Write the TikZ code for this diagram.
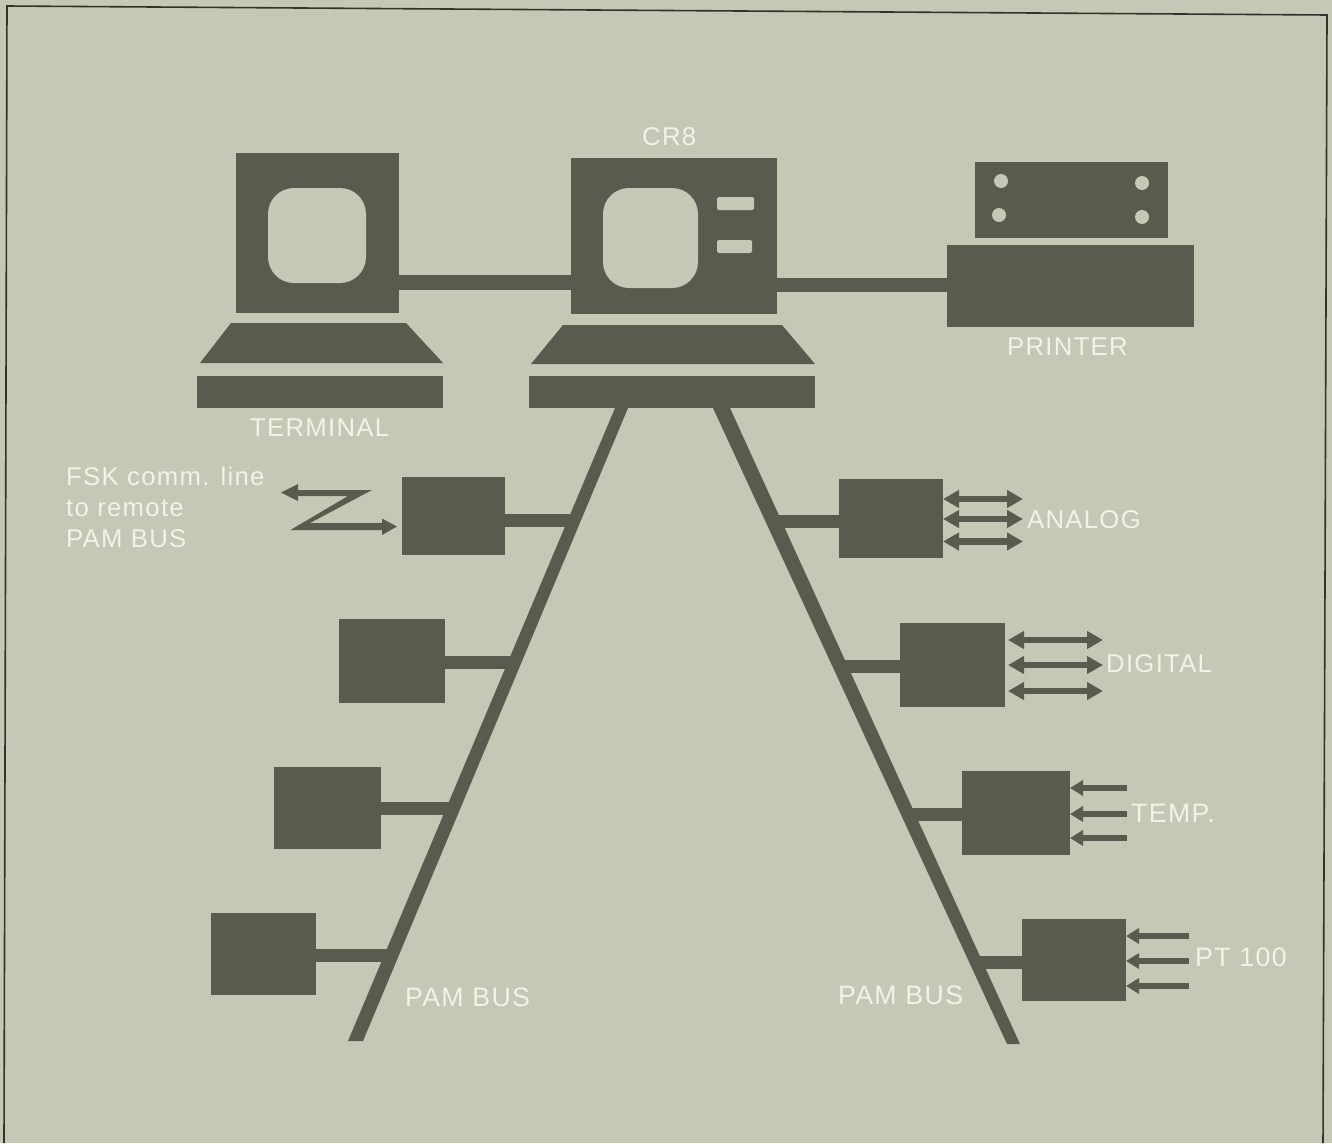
\documentclass[tikz,border=0pt]{standalone}
\usepackage{fontspec}
\setmainfont{Liberation Sans}[LetterSpace=5]
\usetikzlibrary{arrows.meta}
\definecolor{paper}{HTML}{C6C7B4}
\definecolor{ink}{HTML}{5A5A4E}
\definecolor{lbl}{HTML}{F2F2E8}
\definecolor{frameline}{HTML}{33332B}
\tikzset{
  x=1pt,y=-1pt,
  lab/.style={text=lbl,inner sep=0pt,font=\fontsize{25.7}{31}\selectfont,anchor=base west,align=left},
  labb/.style={lab,font=\fontsize{26.7}{31}\selectfont},
  stub/.style={line width=13pt,ink,line cap=butt},
  dbl/.style={line width=6.3pt,ink,{Triangle[length=16pt,width=17pt]}-{Triangle[length=16pt,width=17pt]}},
  inarr/.style={line width=6pt,ink,-{Triangle[length=13pt,width=15pt]}},
  hole/.style={fill=paper,draw=none,rounded corners=#1},
}
\newcommand{\blk}[5]{\node[fill=ink,inner sep=0pt,outer sep=0pt,minimum width=#4-#2,minimum height=#5-#3] (#1) at ({(#2+#4)/2},{(#3+#5)/2}) {};}
\begin{document}
\begin{tikzpicture}
\useasboundingbox (0,0) rectangle (1332,1143);
\fill[paper] (0,0) rectangle (1332,1143);
\draw[frameline,line width=1.6pt] (4,1143) -- (7,6) -- (1327,15) -- (1323,1143);
% terminal
\blk{termscr}{236}{153}{399}{313}
\fill[hole=26pt] (268,188) rectangle (366,283);
\fill[ink] (231,323) -- (406,323) -- (443,363) -- (200,363) -- cycle;
\blk{termbase}{197}{376}{443}{408}
% CR8
\blk{cr}{571}{158}{777}{314}
\fill[hole=26pt] (603,188) rectangle (698,288);
\fill[hole=2pt] (717,197) rectangle (754,210);
\fill[hole=2pt] (717,240) rectangle (752,253);
\fill[ink] (563,325) -- (782,325) -- (815,364) -- (531,364) -- cycle;
\blk{crbase}{529}{376}{815}{408}
% printer
\blk{prtop}{975}{162}{1168}{238}
\foreach \p in {(1001,181),(1142,183),(999,215),(1142,217)} \fill[paper] \p circle (7);
\blk{prlow}{947}{245}{1194}{327}
% links
\coordinate (a1) at (termscr.east |- 0,282.5);
\coordinate (a2) at (cr.west |- 0,282.5);
\draw[line width=15pt,ink] (a1) -- (a2);
\coordinate (b1) at (cr.east |- 0,284.5);
\coordinate (b2) at (prlow.west |- 0,284.5);
\draw[line width=14pt,ink] (b1) -- (b2);
% buses
\fill[ink] (615,408) -- (628,408) -- (363,1041) -- (348,1041) -- cycle;
\fill[ink] (713,408) -- (730,408) -- (1020,1044) -- (1007,1044) -- cycle;
% left modules
\blk{l1}{402}{477}{505}{555}
\blk{l2}{339}{619}{445}{703}
\blk{l3}{274}{767}{381}{849}
\blk{l4}{211}{913}{316}{995}
\coordinate (bl1) at (573,520);
\coordinate (bl2) at (513,662);
\coordinate (bl3) at (452,808);
\coordinate (bl4) at (390,955);
\foreach \m in {1,2,3,4} \draw[stub] (l\m.east |- bl\m) -- (bl\m);
% right modules
\blk{r1}{839}{479}{943}{558}
\blk{r2}{900}{623}{1005}{707}
\blk{r3}{962}{771}{1070}{855}
\blk{r4}{1022}{919}{1126}{1001}
\coordinate (br1) at (773,521.5);
\coordinate (br2) at (840,666.5);
\coordinate (br3) at (908,814);
\coordinate (br4) at (976,962);
\foreach \m in {1,2,3,4} \draw[stub] (r\m.west |- br\m) -- (br\m);
% analog
\foreach \y in {499,519,541.5} {
  \coordinate (s) at (r1.east |- 0,\y);
  \coordinate (e) at (1023,\y);
  \draw[dbl] (s) -- (e);
}
% digital
\foreach \y in {640,665,691} {
  \coordinate (s) at (1008,\y);
  \coordinate (e) at (1103,\y);
  \draw[dbl] (s) -- (e);
}
% temp
\foreach \y in {788,814,838} {
  \coordinate (s) at (1127,\y);
  \draw[inarr] (s) -- (r3.east |- 0,\y);
}
% pt100
\foreach \y in {936,961,986} {
  \coordinate (s) at (1189,\y);
  \draw[inarr] (s) -- (r4.east |- 0,\y);
}
% FSK zig-zag
\coordinate (z1) at (281,492.5);
\coordinate (z2) at (397,526.5);
\fill[ink] (296,490) -- (372,490) -- (310,523) -- (384,523) -- (384,530) -- (290.5,530) -- (348,496) -- (296,496) -- cycle;
\fill[ink] (z1) -- (298,484) -- (298,501) -- cycle;
\fill[ink] (z2) -- (382,518.5) -- (382,535) -- cycle;
% labels
\node[lab] (tcr) at (642,145) {CR8};
\node[lab] (tterm) at (250,436) {TERMINAL};
\node[lab] (tpr) at (1007,355) {PRINTER};
\node[lab,anchor=north west] (tfsk) at (66,467) {FSK comm. line\\to remote\\PAM BUS};
\node[lab] (tan) at (1027,528) {ANALOG};
\node[lab] (tdi) at (1106,672) {DIGITAL};
\node[labb] (tte) at (1131,822) {TEMP.};
\node[labb] (tpt) at (1195,966) {PT 100};
\node[labb] (tb1) at (405,1006) {PAM BUS};
\node[labb] (tb2) at (838,1004) {PAM BUS};
\end{tikzpicture}
\end{document}
